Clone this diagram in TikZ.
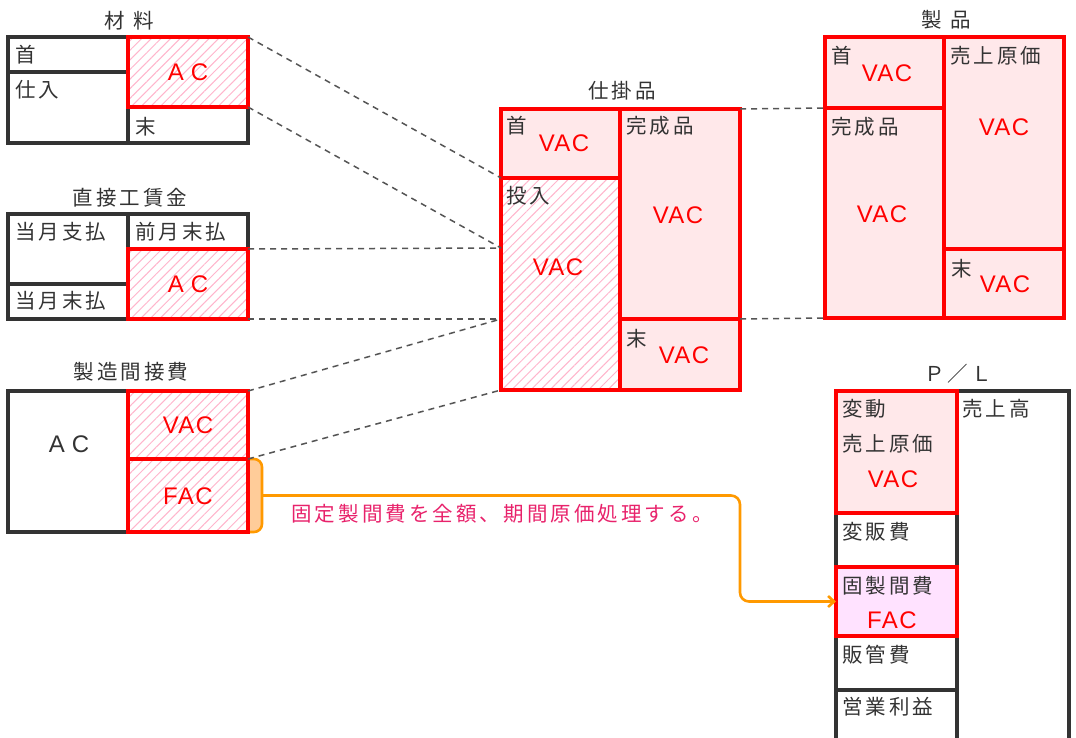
\documentclass[tikz,border=0pt]{standalone}
\usepackage{fontspec}
\newfontfamily\jp[LetterSpace=15]{Noto Sans CJK JP}
\newfontfamily\latf[LetterSpace=6]{Liberation Sans}
\newcommand\jpt{\jp\fontsize{20.5pt}{22pt}\selectfont}
\newcommand\vt{\latf\fontsize{24pt}{26pt}\selectfont}
\usetikzlibrary{fit,patterns.meta,arrows.meta}
\definecolor{dk}{HTML}{333333}
\definecolor{gr}{HTML}{555555}
\definecolor{pinkf}{HTML}{FFE8EA}
\definecolor{hatchc}{HTML}{FFB5CC}
\definecolor{magf}{HTML}{FFE2FF}
\definecolor{org}{HTML}{FF9900}
\definecolor{peach}{HTML}{FFCC99}
\definecolor{tpink}{HTML}{E8226B}
\begin{document}
\begin{tikzpicture}[x=1pt,y=-1pt,
  bx/.style={inner sep=0pt, outer sep=0pt},
  blk/.style={bx, draw=dk, line width=3.2pt},
  rd/.style={bx, draw=red, line width=3.2pt},
  hatch/.style={preaction={fill=white}, pattern={Lines[angle=45,distance=6.8pt,line width=1pt]}, pattern color=hatchc},
  pk/.style={fill=pinkf},
  mg/.style={fill=magf},
  lbl/.style={inner sep=0pt, font=\jpt, text=dk},
  val/.style={inner sep=0pt, font=\vt, text=red},
  dsh/.style={draw=gr, line width=1.5pt, dash pattern=on 6pt off 5pt},
  orgline/.style={draw=org, line width=2.6pt, rounded corners=9pt},
]
\useasboundingbox (0,0) rectangle (1076,738);

% orange tab
\node[bx, fit={(236,459)(262,532)}, draw=org, fill=peach, line width=2.6pt, rounded corners=8pt] (tab) {};

% 材料
\node[blk, fit={(8,37)(248,143)}] (matOut) {};
\node[blk, fit={(8,37)(128,72)}] (matTop) {};
\node[blk, fit={(128,107)(248,143)}] (matEnd) {};
\node[rd, hatch, fit={(128,37)(248,107)}] (matAC) {};

% 直接工賃金
\node[blk, fit={(8,214)(248,319)}] (labOut) {};
\node[blk, fit={(8,214)(128,284)}] (labPay) {};
\node[blk, fit={(8,284)(128,319)}] (labUnpaid) {};
\node[blk, fit={(128,214)(248,249)}] (labPrev) {};
\node[rd, hatch, fit={(128,249)(248,319)}] (labAC) {};

% 製造間接費
\node[blk, fit={(8,391)(248,532)}] (ohOut) {};
\node[blk, fit={(8,391)(128,532)}] (ohL) {};
\node[rd, hatch, fit={(128,391)(248,459)}] (ohV) {};
\node[rd, hatch, fit={(128,459)(248,532)}] (ohF) {};

% 仕掛品
\node[rd, pk, fit={(501,109)(620,178)}] (wipBeg) {};
\node[rd, hatch, fit={(501,178)(620,390)}] (wipIn) {};
\node[rd, pk, fit={(620,109)(740,319)}] (wipDone) {};
\node[rd, pk, fit={(620,319)(740,390)}] (wipEnd) {};
\coordinate (wipA) at (501,248);
\coordinate (wipB) at (501,319);

% 製品
\node[rd, pk, fit={(825,37)(944,108)}] (fgBeg) {};
\node[rd, pk, fit={(825,108)(944,318)}] (fgDone) {};
\node[rd, pk, fit={(944,37)(1064,249)}] (fgCost) {};
\node[rd, pk, fit={(944,249)(1064,318)}] (fgEnd) {};

% P/L
\node[blk, fit={(957,391)(1069,750)}] (plSales) {};
\node[blk, fit={(836,513)(957,567)}] (plVS) {};
\node[blk, fit={(836,636)(957,690)}] (plSG) {};
\node[blk, fit={(836,690)(957,750)}] (plOP) {};
\node[rd, pk, fit={(836,391)(957,513)}] (plVC) {};
\node[rd, mg, fit={(836,567)(957,636)}] (plFC) {};

% dashed connectors
\draw[dsh] (matAC.north east) -- (wipIn.north west);
\draw[dsh] (matAC.south east) -- (wipA);
\draw[dsh] (labAC.north east) -- (wipA);
\draw[dsh] (labAC.south east) -- (wipB);
\draw[dsh] (ohV.north east) -- (wipB);
\draw[dsh] (ohV.south east) -- (wipIn.south west);
\draw[dsh] (wipDone.north east) -- (fgDone.north west);
\draw[dsh] (wipEnd.north east) -- (fgDone.south west);

% orange arrow
\draw[orgline, -{Straight Barb[length=6pt,width=11pt]}] (tab.east) -- (740,495.5) -- (740,601.5) -- (plFC.west);
\node[inner sep=0pt, font=\jpt, text=tpink] (note) at (502,514) {固定製間費を全額、期間原価処理する。};

% titles
\node[lbl] (tMat) at (129,21) {材\hspace{0.4em}料};
\node[lbl] (tLab) at (130,198) {直接工賃金};
\node[lbl] (tOH) at (131,372) {製造間接費};
\node[lbl] (tWip) at (622,91) {仕掛品};
\node[lbl] (tFg) at (946,20) {製\hspace{0.4em}品};
\node[lbl] (tPL) at (958,374) {Ｐ／Ｌ};

% 材料 labels
\node[lbl, anchor=west] (mBeg) at (15,55) {首};
\node[lbl, anchor=west] (mBuy) at (15,90) {仕入};
\node[lbl, anchor=west] (mEnd) at (135,127) {末};
\node[val] (mAC) at (188,72) {A\hspace{7pt}C};

% 直接工賃金 labels
\node[lbl, anchor=west] (lPay) at (15,232) {当月支払};
\node[lbl, anchor=west] (lPrev) at (135,232) {前月末払};
\node[lbl, anchor=west] (lUnp) at (15,301) {当月末払};
\node[val] (lAC) at (188,284) {A\hspace{7pt}C};

% 製造間接費 labels
\node[inner sep=0pt, font=\vt, text=dk] (oAC) at (69,444) {A\hspace{7pt}C};
\node[val] (oV) at (188,425) {VAC};
\node[val] (oF) at (188,496) {FAC};

% 仕掛品 labels
\node[lbl, anchor=west] (wB) at (506,126) {首};
\node[val] (wBv) at (564,143) {VAC};
\node[lbl, anchor=west] (wI) at (506,196) {投入};
\node[val] (wIv) at (558,267) {VAC};
\node[lbl, anchor=west] (wD) at (626,126) {完成品};
\node[val] (wDv) at (678,215) {VAC};
\node[lbl, anchor=west] (wE) at (626,339) {末};
\node[val] (wEv) at (684,355) {VAC};

% 製品 labels
\node[lbl, anchor=west] (fB) at (831,56) {首};
\node[val] (fBv) at (887,73) {VAC};
\node[lbl, anchor=west] (fC) at (950,56) {売上原価};
\node[val] (fCv) at (1004,127) {VAC};
\node[lbl, anchor=west] (fD) at (831,127) {完成品};
\node[val] (fDv) at (882,214) {VAC};
\node[lbl, anchor=west] (fE) at (951,269) {末};
\node[val] (fEv) at (1005,284) {VAC};

% P/L labels
\node[lbl, anchor=west] (p1) at (842,409) {変動};
\node[lbl, anchor=west] (p2) at (842,444) {売上原価};
\node[val] (p3) at (893,479) {VAC};
\node[lbl, anchor=west] (p4) at (962,409) {売上高};
\node[lbl, anchor=west] (p5) at (842,532) {変販費};
\node[lbl, anchor=west] (p6) at (842,586) {固製間費};
\node[val] (p7) at (892,620) {FAC};
\node[lbl, anchor=west] (p8) at (842,655) {販管費};
\node[lbl, anchor=west] (p9) at (842,707) {営業利益};
\end{tikzpicture}
\end{document}
